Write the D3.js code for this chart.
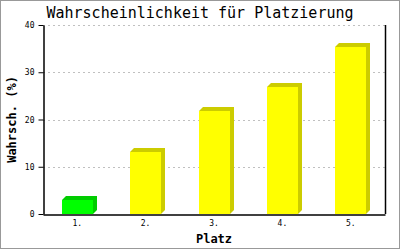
<!DOCTYPE html>
<html>
<head>
<meta charset="utf-8">
<script src="https://cdn.jsdelivr.net/npm/d3@7"></script>
<style>
  body { margin: 0; background: #fff; }
  svg { display: block; }
</style>
</head>
<body>
<svg id="chart"></svg>
<script>
// data
const places = ['1.', '2.', '3.', '4.', '5.'];
const probabilities = [3.0, 13.2, 21.7, 26.9, 35.4];
const barColors = ['#00ff00', '#ffff00', '#ffff00', '#ffff00', '#ffff00'];
const sideColors = ['#00cc00', '#cccc00', '#cccc00', '#cccc00', '#cccc00'];
const yTicks = [0, 10, 20, 30, 40];

const W = 400, H = 250;
const margin = { top: 25, right: 15, bottom: 36, left: 43 };
const width = W - margin.left - margin.right;
const height = H - margin.top - margin.bottom;
const depth = 4;

const svg = d3.select('#chart').attr('width', W).attr('height', H);

// outer frame
svg.append('rect')
  .attr('x', 0.5).attr('y', 0.5)
  .attr('width', W - 1).attr('height', H - 2)
  .attr('fill', 'none')
  .attr('stroke', '#999999');

const g = svg.append('g').attr('transform', `translate(${margin.left},${margin.top})`);

const x = d3.scaleBand()
  .domain(places)
  .range([0, width])
  .paddingInner(0.55)
  .paddingOuter(0.275);

const y = d3.scaleLinear()
  .domain([0, 40])
  .range([height, 0]);

// grid lines
g.selectAll('.grid')
  .data(yTicks.filter(d => d > 0))
  .enter()
  .append('line')
  .attr('x1', 0).attr('x2', width)
  .attr('y1', d => Math.round(y(d)) + 0.5)
  .attr('y2', d => Math.round(y(d)) + 0.5)
  .attr('stroke', '#c0c0c0')
  .attr('stroke-dasharray', '2,3');

// bars with 3d side
const data = places.map((p, i) => ({ p, v: probabilities[i], c: barColors[i], s: sideColors[i] }));

g.selectAll('.side')
  .data(data)
  .enter()
  .append('polygon')
  .attr('fill', d => d.s)
  .attr('points', d => {
    const x0 = Math.round(x(d.p)), x1 = x0 + Math.round(x.bandwidth());
    const top = Math.round(y(d.v)), base = height;
    return [[x0, top], [x0 + depth, top - depth], [x1 + depth, top - depth],
            [x1 + depth, base - depth], [x1, base]].map(q => q.join(',')).join(' ');
  });

g.selectAll('.bar')
  .data(data)
  .enter()
  .append('rect')
  .attr('x', d => Math.round(x(d.p)))
  .attr('width', Math.round(x.bandwidth()))
  .attr('y', d => Math.round(y(d.v)))
  .attr('height', d => height - Math.round(y(d.v)))
  .attr('fill', d => d.c);

// axes
const yAxis = g.append('g')
  .attr('transform', 'translate(0.5,0)')
  .call(d3.axisLeft(y).tickValues(yTicks).tickSize(5).tickPadding(4).tickSizeOuter(0));
yAxis.select('.domain').attr('stroke', '#000').attr('stroke-width', 1.5);
yAxis.selectAll('text')
  .style('font-family', '"DejaVu Sans Mono", monospace')
  .style('font-size', '8px')
  .style('fill', '#000');

const xAxis = g.append('g')
  .attr('transform', `translate(0,${height + 0.5})`)
  .call(d3.axisBottom(x).tickSize(0).tickPadding(6));
xAxis.select('.domain').attr('stroke', '#000').attr('stroke-width', 1.5);
xAxis.selectAll('text')
  .style('font-family', '"DejaVu Sans Mono", monospace')
  .style('font-size', '8px')
  .style('fill', '#000');

// right border of plot
g.append('line')
  .attr('x1', width + 0.5).attr('x2', width + 0.5)
  .attr('y1', 0).attr('y2', height)
  .attr('stroke', '#000')
  .attr('stroke-width', 1.5);

// title
svg.append('text')
  .attr('x', 200)
  .attr('y', 18)
  .attr('text-anchor', 'middle')
  .style('font-family', '"DejaVu Sans Mono", monospace')
  .style('font-size', '15px')
  .text('Wahrscheinlichkeit für Platzierung');

// axis titles
svg.append('text')
  .attr('x', margin.left + width / 2)
  .attr('y', 243)
  .attr('text-anchor', 'middle')
  .style('font-family', '"DejaVu Sans Mono", monospace')
  .style('font-size', '12px')
  .style('font-weight', 'bold')
  .text('Platz');

svg.append('text')
  .attr('transform', `translate(16,${margin.top + height / 2}) rotate(-90)`)
  .attr('text-anchor', 'middle')
  .style('font-family', '"DejaVu Sans Mono", monospace')
  .style('font-size', '12px')
  .style('font-weight', 'bold')
  .text('Wahrsch. (%)');
</script>
</body>
</html>
